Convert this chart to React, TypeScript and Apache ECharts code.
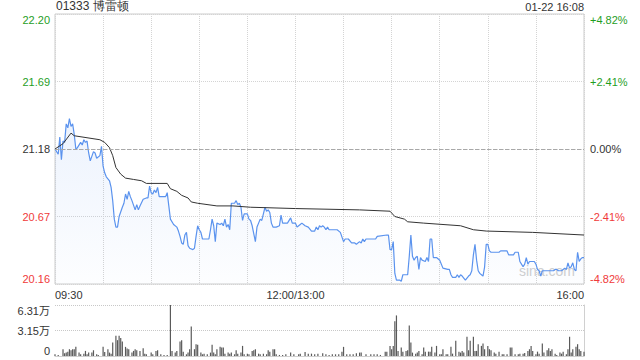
import React, { useEffect, useRef } from 'react';
import * as echarts from 'echarts';

const TITLE = '01333 博雷顿';
const DATE_TEXT = '01-22 16:08';
const PREV_CLOSE = 21.18;
const STEP = 0.51;
const priceTickLabels = ['20.16', '20.67', '21.18', '21.69', '22.20'];
const pctTickLabels = ['-4.82%', '-2.41%', '0.00%', '+2.41%', '+4.82%'];
const volTickLabels = ['0', '3.15万', '6.31万'];
const VOL_MAX = 63100;
const timeLabels: Record<number, string> = { 0: '09:30', 150: '12:00/13:00', 330: '16:00' };

// [minute since 09:30 (lunch removed), price]
const priceSeries: [number, number][] = [
  [0, 21.18], [2, 21.14], [3, 21.27], [4, 21.10], [5, 21.24], [6, 21.23], [7, 21.37], [8, 21.34], [9, 21.41],
  [10, 21.35], [11, 21.37], [12, 21.29], [13, 21.18], [14, 21.19], [16, 21.23], [17, 21.21], [18, 21.25],
  [19, 21.23], [20, 21.24], [21, 21.15], [22, 21.09], [24, 21.16], [25, 21.15], [26, 21.11], [28, 21.13],
  [29, 21.20], [30, 21.05], [31, 21.00], [32, 20.97], [34, 20.94], [35, 20.89], [36, 20.79], [37, 20.65],
  [38, 20.59], [39, 20.59], [40, 20.67], [42, 20.74], [43, 20.77], [44, 20.84], [45, 20.80], [46, 20.86],
  [47, 20.82], [48, 20.79], [50, 20.72], [51, 20.76], [52, 20.72], [53, 20.75], [55, 20.80], [57, 20.81],
  [58, 20.81], [59, 20.90], [60, 20.85], [61, 20.84], [62, 20.87], [63, 20.85], [64, 20.89], [65, 20.82],
  [69, 20.82], [70, 20.85], [71, 20.75], [72, 20.65], [74, 20.61], [76, 20.59], [77, 20.56], [78, 20.52],
  [79, 20.47], [80, 20.46], [81, 20.53], [82, 20.55], [83, 20.45], [84, 20.43], [86, 20.42], [87, 20.43],
  [88, 20.52], [89, 20.60], [90, 20.57], [91, 20.55], [92, 20.50], [96, 20.50], [97, 20.57], [98, 20.65],
  [99, 20.60], [100, 20.48], [101, 20.62], [103, 20.61], [104, 20.62], [105, 20.60], [106, 20.65], [107, 20.59],
  [108, 20.61], [109, 20.57], [110, 20.77], [112, 20.77], [113, 20.79], [114, 20.76], [115, 20.77], [116, 20.74],
  [117, 20.64], [118, 20.69], [120, 20.69], [121, 20.65], [122, 20.64], [123, 20.60], [125, 20.48], [126, 20.59],
  [127, 20.62], [128, 20.65], [129, 20.64], [130, 20.69], [131, 20.74], [132, 20.71], [133, 20.72], [134, 20.70],
  [135, 20.62], [136, 20.59], [138, 20.59], [140, 20.60], [141, 20.68], [142, 20.62], [145, 20.62], [147, 20.66],
  [148, 20.62], [150, 20.62], [151, 20.59], [152, 20.60], [153, 20.61], [154, 20.62], [156, 20.60], [158, 20.59],
  [160, 20.56], [162, 20.56], [163, 20.59], [164, 20.57], [165, 20.60], [166, 20.59], [167, 20.60], [168, 20.59],
  [169, 20.57], [170, 20.59], [171, 20.57], [176, 20.57], [178, 20.55], [180, 20.48], [181, 20.50], [183, 20.50],
  [185, 20.47], [187, 20.47], [188, 20.46], [190, 20.48], [191, 20.47], [192, 20.50], [193, 20.48], [194, 20.50],
  [200, 20.50], [201, 20.52], [207, 20.53], [208, 20.53], [209, 20.42], [210, 20.42], [211, 20.48], [212, 20.24],
  [213, 20.19], [215, 20.19], [216, 20.18], [217, 20.23], [220, 20.23], [221, 20.37], [222, 20.53], [223, 20.37],
  [224, 20.34], [225, 20.36], [226, 20.37], [227, 20.27], [228, 20.36], [229, 20.34], [231, 20.33], [232, 20.36],
  [233, 20.33], [234, 20.50], [235, 20.50], [236, 20.36], [238, 20.36], [240, 20.34], [242, 20.28], [245, 20.27],
  [246, 20.27], [247, 20.23], [248, 20.21], [250, 20.21], [251, 20.23], [252, 20.21], [253, 20.23], [254, 20.22],
  [256, 20.19], [258, 20.22], [259, 20.23], [260, 20.26], [261, 20.38], [262, 20.46], [263, 20.34], [264, 20.26],
  [265, 20.24], [266, 20.23], [267, 20.22], [268, 20.29], [269, 20.46], [270, 20.46], [271, 20.41], [272, 20.40],
  [277, 20.40], [278, 20.41], [282, 20.41], [283, 20.38], [286, 20.38], [287, 20.40], [289, 20.40], [290, 20.33],
  [291, 20.31], [292, 20.29], [293, 20.31], [294, 20.36], [295, 20.31], [296, 20.33], [299, 20.33], [300, 20.31],
  [301, 20.27], [302, 20.26], [303, 20.22], [304, 20.26], [309, 20.26], [311, 20.26], [312, 20.27], [313, 20.27],
  [314, 20.26], [316, 20.26], [317, 20.27], [318, 20.28], [319, 20.27], [320, 20.32], [321, 20.28], [322, 20.29],
  [323, 20.32], [324, 20.27], [325, 20.26], [326, 20.40], [327, 20.33], [328, 20.35], [329, 20.36], [330, 20.36],
];

const avgSeries: [number, number][] = [
  [0, 21.18], [5, 21.22], [10, 21.30], [12, 21.28], [28, 21.25], [31, 21.23], [34, 21.19], [36, 21.13],
  [38, 21.04], [41, 20.99], [44, 20.96], [49, 20.95], [54, 20.94], [57, 20.92], [70, 20.92], [72, 20.88],
  [76, 20.86], [79, 20.83], [83, 20.81], [85, 20.78], [89, 20.77], [101, 20.75], [111, 20.75], [122, 20.74],
  [150, 20.73], [190, 20.72], [209, 20.71], [212, 20.67], [218, 20.65], [220, 20.63], [230, 20.62], [253, 20.60],
  [261, 20.57], [269, 20.56], [298, 20.55], [330, 20.53],
];

const volumeSeries: [number, number][] = [
  [0, 2100], [2, 1300], [5, 8400], [6, 3300], [7, 4200], [8, 5400], [9, 8400], [10, 7100], [11, 8400], [12, 8400],
  [13, 11300], [15, 4200], [16, 2100], [18, 2900], [19, 6300], [20, 2100], [21, 4200], [23, 4200], [24, 7100],
  [26, 2100], [27, 1300], [30, 11300], [31, 5000], [33, 8400], [34, 4200], [35, 2900], [36, 16700], [38, 25100],
  [39, 19600], [40, 25100], [41, 22200], [42, 18000], [44, 11300], [45, 9200], [46, 8400], [48, 4200], [49, 6300],
  [50, 8400], [51, 7100], [53, 6300], [55, 9600], [56, 2900], [57, 2100], [60, 4200], [61, 2100], [63, 6300],
  [64, 7100], [66, 2100], [68, 1300], [70, 1300], [72, 63100], [73, 6300], [75, 4200], [76, 6300], [78, 18000],
  [79, 19600], [80, 5400], [82, 2100], [83, 4200], [84, 8400], [85, 36400], [87, 8400], [88, 14600], [89, 13800],
  [91, 4200], [92, 2100], [93, 2900], [95, 2100], [97, 4200], [98, 13800], [99, 4200], [100, 2100], [101, 8400],
  [103, 11300], [104, 10500], [105, 10500], [106, 2900], [108, 4200], [109, 2900], [110, 4200], [112, 2100],
  [113, 7100], [114, 2900], [116, 4200], [117, 12500], [118, 2100], [120, 2900], [121, 2100], [123, 6300],
  [124, 7100], [125, 8400], [127, 2900], [128, 2100], [130, 2900], [132, 2100], [133, 7100], [134, 5400],
  [136, 8400], [137, 8400], [138, 2100], [140, 1300], [142, 1300], [144, 2100], [147, 4200], [149, 2100],
  [152, 2100], [153, 2900], [156, 5000], [158, 2900], [160, 2900], [162, 2100], [164, 2900], [167, 3300],
  [169, 2100], [171, 1300], [173, 2100], [175, 2100], [177, 2100], [179, 5400], [180, 11300], [182, 2100],
  [184, 2100], [186, 2100], [188, 3300], [190, 4200], [191, 4200], [194, 2100], [197, 2100], [199, 2100],
  [201, 2100], [203, 1300], [206, 5400], [207, 5400], [209, 12500], [210, 8400], [211, 12500], [212, 43000],
  [213, 50200], [214, 6300], [216, 10500], [217, 5400], [219, 6300], [220, 7100], [221, 37600], [222, 16700],
  [223, 4200], [225, 2900], [226, 4200], [227, 6300], [229, 2100], [230, 10500], [231, 5400], [233, 5400],
  [234, 5400], [235, 11300], [237, 4200], [238, 12500], [240, 2100], [241, 2100], [242, 8400], [244, 2100],
  [245, 2100], [247, 11300], [248, 2900], [250, 18800], [252, 5400], [253, 4200], [254, 6300], [255, 4200],
  [257, 23800], [258, 7100], [259, 18800], [261, 23800], [262, 6300], [263, 6300], [264, 14600], [266, 12500],
  [267, 15500], [268, 8400], [270, 12500], [271, 8400], [272, 7100], [274, 4200], [275, 2900], [277, 5400],
  [279, 2100], [280, 2100], [282, 2100], [284, 10500], [285, 10500], [287, 2100], [289, 2100], [290, 2900],
  [292, 2900], [293, 3800], [295, 6300], [296, 8400], [297, 12500], [298, 6300], [300, 2100], [301, 5400],
  [302, 2900], [304, 15500], [305, 4200], [307, 7100], [308, 9600], [309, 6300], [310, 8400], [312, 2900],
  [313, 1300], [315, 4200], [316, 2900], [317, 5400], [319, 2100], [320, 8400], [321, 23800], [322, 4200],
  [323, 8400], [325, 11300], [326, 14600], [327, 8400], [328, 6300], [330, 5400],
];

const RED = '#f03a3a';
const GREEN = '#1f9e1f';
const DARK = '#333333';
const FONT = '"Liberation Sans", Arial, "Noto Sans CJK SC", sans-serif';

const levelColor = (v: number) => {
  const i = Math.round(v);
  if (i < 0) return RED;
  if (i > 0) return GREEN;
  return DARK;
};

export default function App() {
  const ref = useRef<HTMLDivElement>(null);
  useEffect(() => {
    if (!ref.current) return;
    const chart = echarts.init(ref.current, undefined, { renderer: 'svg' });
    const toLevel = (p: number) => (p - PREV_CLOSE) / STEP;
    const dotted = { type: 'dotted' as const, color: '#d4d4d4', width: 1 };
    chart.setOption({
      animation: false,
      textStyle: { fontFamily: FONT },
      grid: [
        { left: 55, right: 56, top: 14, height: 270, show: true, borderColor: '#cccccc', borderWidth: 1 },
        { left: 55, right: 56, top: 305, height: 51, show: false },
      ],
      graphic: [
        { type: 'text', left: 56, top: 0, style: { text: TITLE, fontSize: 12, fill: DARK, font: `12px ${FONT}` } },
        { type: 'text', right: 56, top: 1, style: { text: DATE_TEXT, fill: DARK, font: `11px ${FONT}` } },
        { type: 'text', left: 519, top: 264, style: { text: 'sina.com', fill: '#cfcfcf', font: `14px ${FONT}` } },
      ],
      xAxis: [
        {
          type: 'value', gridIndex: 0, min: 0, max: 330, interval: 30,
          axisLine: { show: false }, axisTick: { show: false },
          splitLine: { show: true, lineStyle: dotted },
          axisLabel: {
            formatter: (v: number) => timeLabels[v] ?? '',
            color: DARK, fontSize: 11, margin: 5,
            alignMinLabel: 'left', alignMaxLabel: 'right',
          },
        },
        {
          type: 'value', gridIndex: 1, min: 0, max: 330, interval: 30,
          axisLine: { show: true, lineStyle: { color: '#d0d0d0' } }, axisTick: { show: false },
          axisLabel: { show: false }, splitLine: { show: false },
        },
      ],
      yAxis: [
        {
          type: 'value', gridIndex: 0, min: -2, max: 2, interval: 1, position: 'left',
          axisLine: { show: false }, axisTick: { show: false },
          splitLine: { show: true, lineStyle: dotted },
          axisLabel: {
            formatter: (v: number) => priceTickLabels[Math.round(v) + 2],
            color: (v: any) => levelColor(Number(v)),
            fontSize: 11, margin: 5,
            verticalAlignMinLabel: 'bottom', verticalAlignMaxLabel: 'top',
          },
        },
        {
          type: 'value', gridIndex: 0, min: -2, max: 2, interval: 1, position: 'right',
          axisLine: { show: false }, axisTick: { show: false }, splitLine: { show: false },
          axisLabel: {
            formatter: (v: number) => pctTickLabels[Math.round(v) + 2],
            color: (v: any) => levelColor(Number(v)),
            fontSize: 11, margin: 6,
            verticalAlignMinLabel: 'bottom', verticalAlignMaxLabel: 'top',
          },
        },
        {
          type: 'value', gridIndex: 1, min: 0, max: VOL_MAX, interval: VOL_MAX / 2, position: 'left',
          axisLine: { show: false }, axisTick: { show: false },
          splitLine: { show: true, lineStyle: { type: 'dotted', color: '#c8c8c8' } },
          axisLabel: {
            formatter: (_v: number, i: number) => volTickLabels[i] ?? '',
            color: DARK, fontSize: 11, margin: 5,
            verticalAlignMinLabel: 'bottom', verticalAlignMaxLabel: 'top',
          },
        },
        {
          type: 'value', gridIndex: 1, min: 0, max: VOL_MAX, position: 'right',
          axisLine: { show: true, lineStyle: { color: '#d0d0d0' } }, axisTick: { show: false },
          axisLabel: { show: false }, splitLine: { show: false },
        },
      ],
      series: [
        {
          type: 'line', xAxisIndex: 0, yAxisIndex: 0, name: 'price',
          data: priceSeries.map(([m, p]) => [m, toLevel(p)]),
          showSymbol: false, symbol: 'none',
          lineStyle: { color: '#5b93ee', width: 1.2 },
          areaStyle: {
            origin: 'start',
            color: new echarts.graphic.LinearGradient(0, 0, 0, 1, [
              { offset: 0, color: 'rgba(91,147,238,0.16)' },
              { offset: 1, color: 'rgba(91,147,238,0.02)' },
            ]),
          },
          markLine: {
            silent: true, symbol: 'none', label: { show: false },
            lineStyle: { type: 'dashed', color: '#a8a8a8', width: 1 },
            data: [{ yAxis: 0 }],
          },
          z: 3,
        },
        {
          type: 'line', xAxisIndex: 0, yAxisIndex: 0, name: 'avg',
          data: avgSeries.map(([m, p]) => [m, toLevel(p)]),
          showSymbol: false, symbol: 'none',
          lineStyle: { color: '#333333', width: 1 },
          z: 4,
        },
        {
          type: 'bar', xAxisIndex: 1, yAxisIndex: 2, name: 'volume',
          data: volumeSeries,
          barWidth: 1.2,
          itemStyle: { color: '#5a5a5a' },
        },
      ],
    });
    return () => chart.dispose();
  }, []);
  return (
    <div
      ref={ref}
      style={{ position: 'fixed', left: 0, top: 0, width: 640, height: 360, background: '#ffffff' }}
    />
  );
}
